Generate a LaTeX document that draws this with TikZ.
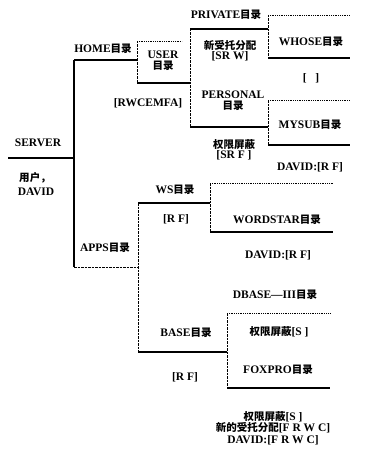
\documentclass[tikz,border=0pt]{standalone}
\usepackage{fontspec}
\setmainfont{Liberation Serif}
\newfontfamily\cjk{Noto Sans CJK SC}
\newcommand{\zh}[1]{{\cjk\fontsize{10.5}{11}\selectfont #1}}
\begin{document}
\begin{tikzpicture}[x=1pt,y=-1pt,
  txt/.style={font=\fontsize{11.5}{12}\selectfont\bfseries, inner sep=0pt, align=center},
  solidln/.style={line width=1.1pt},
  dashln/.style={line width=0.9pt, dash pattern=on 2.5pt off 1pt},
  dotln/.style={line width=0.9pt, dash pattern=on 0.8pt off 1pt}]
\useasboundingbox (0,0) rectangle (367,452);
% coordinates
\coordinate (s0) at (8,158);
\coordinate (s1) at (74,158);
\coordinate (st) at (74,60);
\coordinate (sb) at (74,267);
\coordinate (ht) at (137,41);
\coordinate (hm) at (137,60);
\coordinate (hb) at (137,83);
\coordinate (htr) at (182,41);
\coordinate (hbr) at (190,83);
\coordinate (ut) at (190,29);
\coordinate (ub) at (190,127);
\coordinate (pt) at (268,29);
\coordinate (pb) at (268,127);
\coordinate (wt) at (268,15);
\coordinate (wb) at (268,58);
\coordinate (wtr) at (350,15);
\coordinate (wbr) at (350,58);
\coordinate (mt) at (268,100);
\coordinate (mb) at (268,145);
\coordinate (mtr) at (350,100);
\coordinate (mbr) at (350,145);
\coordinate (at) at (138,203);
\coordinate (am) at (138,267);
\coordinate (ab) at (138,352);
\coordinate (wsm) at (210,203);
\coordinate (wst) at (210,183);
\coordinate (wsb) at (210,232);
\coordinate (wstr) at (333,183);
\coordinate (wsbr) at (333,232);
\coordinate (bm) at (227,352);
\coordinate (bt) at (227,313);
\coordinate (bb) at (227,388);
\coordinate (btr) at (330,313);
\coordinate (bbr) at (330,388);
% lines
\draw[solidln] (s0) -- (s1);
\draw[solidln] (st) -- (sb);
\draw[solidln] (st) -- (hm);
\draw[dashln] (sb) -- (am);
\draw[dashln] (ht) -- (hb);
\draw[dotln] (ht) -- (htr);
\draw[solidln] (hb) -- (hbr);
\draw[dashln] (ut) -- (ub);
\draw[solidln] (ut) -- (pt);
\draw[solidln] (ub) -- (pb);
\draw[dashln] (wt) -- (wb);
\draw[dotln] (wt) -- (wtr);
\draw[solidln] (wb) -- (wbr);
\draw[dashln] (mt) -- (mb);
\draw[dotln] (mt) -- (mtr);
\draw[solidln] (mb) -- (mbr);
\draw[dashln] (at) -- (ab);
\draw[solidln] (at) -- (wsm);
\draw[dashln] (wst) -- (wsb);
\draw[dotln] (wst) -- (wstr);
\draw[solidln] (wsb) -- (wsbr);
\draw[solidln] (ab) -- (bm);
\draw[dashln] (bt) -- (bb);
\draw[dotln] (bt) -- (btr);
\draw[solidln] (bb) -- (bbr);
% texts
\node[txt] (server) at (38,143) {SERVER};
\node[txt] (user1) at (35,178) {\zh{用户，}};
\node[txt] (david) at (36,192) {DAVID};
\node[txt] (home) at (103,49) {HOME\zh{目录}};
\node[txt] (usr) at (163,61) {USER\\[-1pt]\zh{目录}};
\node[txt] (rwc) at (148,103) {[RWCEMFA]};
\node[txt] (priv) at (226,15) {PRIVATE\zh{目录}};
\node[txt] (xst) at (230,51) {\zh{新受托分配}\\[-2pt][SR\ W]};
\node[txt] (whose) at (311,42) {WHOSE\zh{目录}};
\node[txt] (empty) at (311,78) {[\ \ \ ]};
\node[txt] (pers) at (233,101) {PERSONAL\\[-1pt]\zh{目录}};
\node[txt] (mysub) at (310,125) {MYSUB\zh{目录}};
\node[txt] (mask1) at (234,150) {\zh{权限屏蔽}\\[-2pt][SR\ F\ ]};
\node[txt] (dav1) at (310,167) {DAVID:[R\ F]};
\node[txt] (ws) at (175,190) {WS\zh{目录}};
\node[txt] (rf1) at (176,219) {[R\ F]};
\node[txt] (wordstar) at (277,220) {WORDSTAR\zh{目录}};
\node[txt] (dav2) at (278,255) {DAVID:[R\ F]};
\node[txt] (apps) at (105,248) {APPS\zh{目录}};
\node[txt] (dbase) at (275,295) {DBASE—III\zh{目录}};
\node[txt] (base) at (186,333) {BASE\zh{目录}};
\node[txt] (mask2) at (279,332) {\zh{权限屏蔽}[S\ ]};
\node[txt] (rf2) at (185,377) {[R\ F]};
\node[txt] (foxpro) at (278,370) {FOXPRO\zh{目录}};
\node[txt] (bottom) at (273,428) {\zh{权限屏蔽}[S\ ]\\[-0.5pt]\zh{新的受托分配}[F\ R\ W\ C]\\[-0.5pt]DAVID:[F\ R\ W\ C]};
\end{tikzpicture}
\end{document}
